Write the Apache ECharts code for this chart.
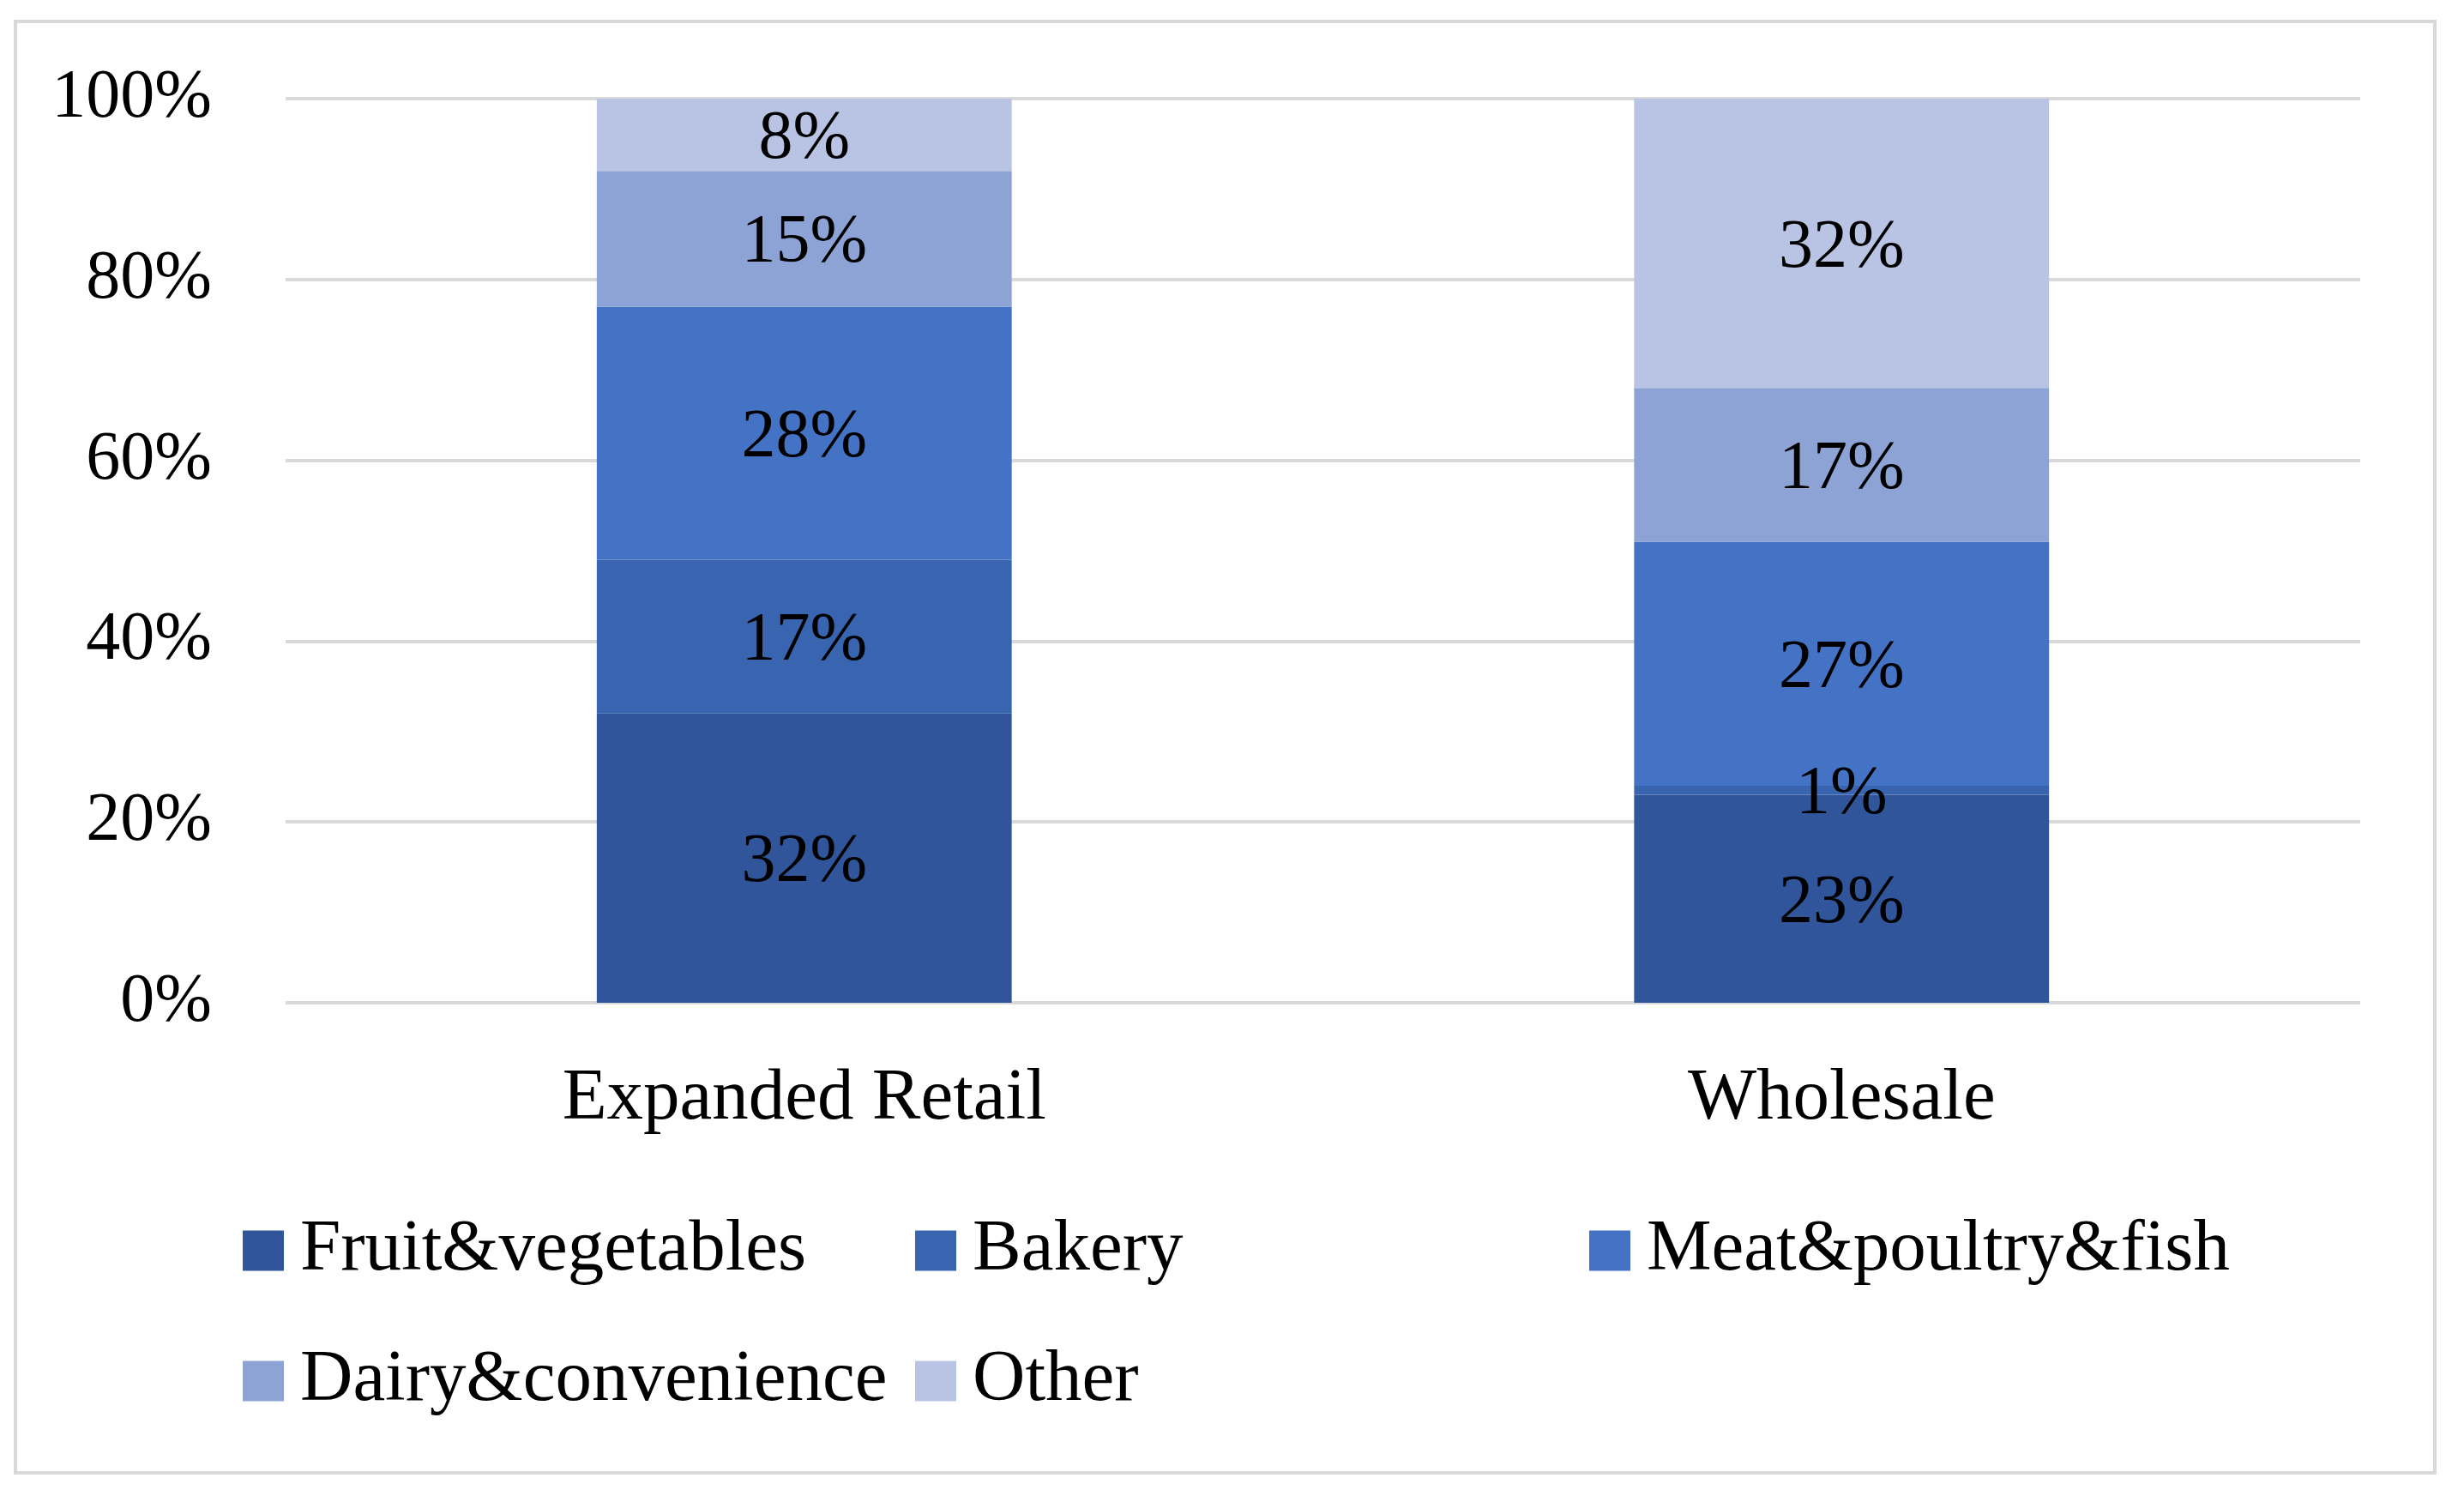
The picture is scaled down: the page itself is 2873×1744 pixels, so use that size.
<!DOCTYPE html>
<html>
<head>
<meta charset="utf-8">
<script src="https://cdn.jsdelivr.net/npm/echarts@6/dist/echarts.min.js"></script>
<style>
html,body{margin:0;padding:0;background:#fff;}
#chart{width:2873px;height:1744px;}
</style>
</head>
<body>
<div id="chart"></div>
<script>
const categories = ['Expanded Retail', 'Wholesale'];
const seriesNames = ['Fruit&vegetables', 'Bakery', 'Meat&poultry&fish', 'Dairy&convenience', 'Other'];
const fruitVeg = [32, 23];
const bakery = [17, 1];
const meatPoultryFish = [28, 27];
const dairyConvenience = [15, 17];
const other = [8, 32];
const yTicks = [0, 20, 40, 60, 80, 100];

const colors = ['#30559A', '#3864B0', '#4472C4', '#8EA3D5', '#B9C3E3'];
const values = [fruitVeg, bakery, meatPoultryFish, dairyConvenience, other];
const FONT = '"Liberation Serif", "DejaVu Serif", serif';

const chart = echarts.init(document.getElementById('chart'));

const series = seriesNames.map((name, i) => ({
  name: name,
  type: 'bar',
  stack: 'total',
  barWidth: '40%',
  data: values[i],
  itemStyle: { color: colors[i] },
  label: {
    show: true,
    position: 'inside',
    offset: [0, 6],
    formatter: p => p.value + '%',
    color: '#000',
    fontFamily: FONT,
    fontSize: 80
  },
  emphasis: { disabled: true }
}));

const legendText = {
  color: '#000',
  fontFamily: FONT,
  fontSize: 85,
  lineHeight: 100,
  padding: [0, 0, 0, 14]
};
function mkLegend(left, names) {
  return {
    orient: 'vertical',
    left: left,
    top: 1403,
    itemWidth: 48,
    itemHeight: 47,
    itemGap: 52,
    icon: 'rect',
    selectedMode: false,
    textStyle: legendText,
    data: names
  };
}

chart.setOption({
  animation: false,
  backgroundColor: '#fff',
  color: colors,
  grid: { left: 333, right: 121, top: 115, bottom: 575, containLabel: false },
  legend: [
    mkLegend(278, [seriesNames[0], seriesNames[3]]),
    mkLegend(1062, [seriesNames[1], seriesNames[4]]),
    mkLegend(1848, [seriesNames[2]])
  ],
  xAxis: {
    type: 'category',
    data: categories,
    axisLine: { show: false },
    axisTick: { show: false },
    axisLabel: {
      color: '#000',
      fontFamily: FONT,
      fontSize: 85,
      lineHeight: 100,
      margin: 63
    }
  },
  yAxis: {
    type: 'value',
    min: yTicks[0],
    max: yTicks[yTicks.length - 1],
    interval: yTicks[1] - yTicks[0],
    axisLine: { show: false },
    axisTick: { show: false },
    splitLine: { lineStyle: { color: '#D9D9D9', width: 4 } },
    axisLabel: {
      color: '#000',
      fontFamily: FONT,
      fontSize: 80,
      margin: 86,
      formatter: '{value}%'
    }
  },
  graphic: [{
    type: 'rect',
    silent: true,
    shape: { x: 18, y: 25, width: 2821, height: 1692 },
    style: { fill: 'none', stroke: '#D9D9D9', lineWidth: 4 }
  }],
  series: series
});
</script>
</body>
</html>
